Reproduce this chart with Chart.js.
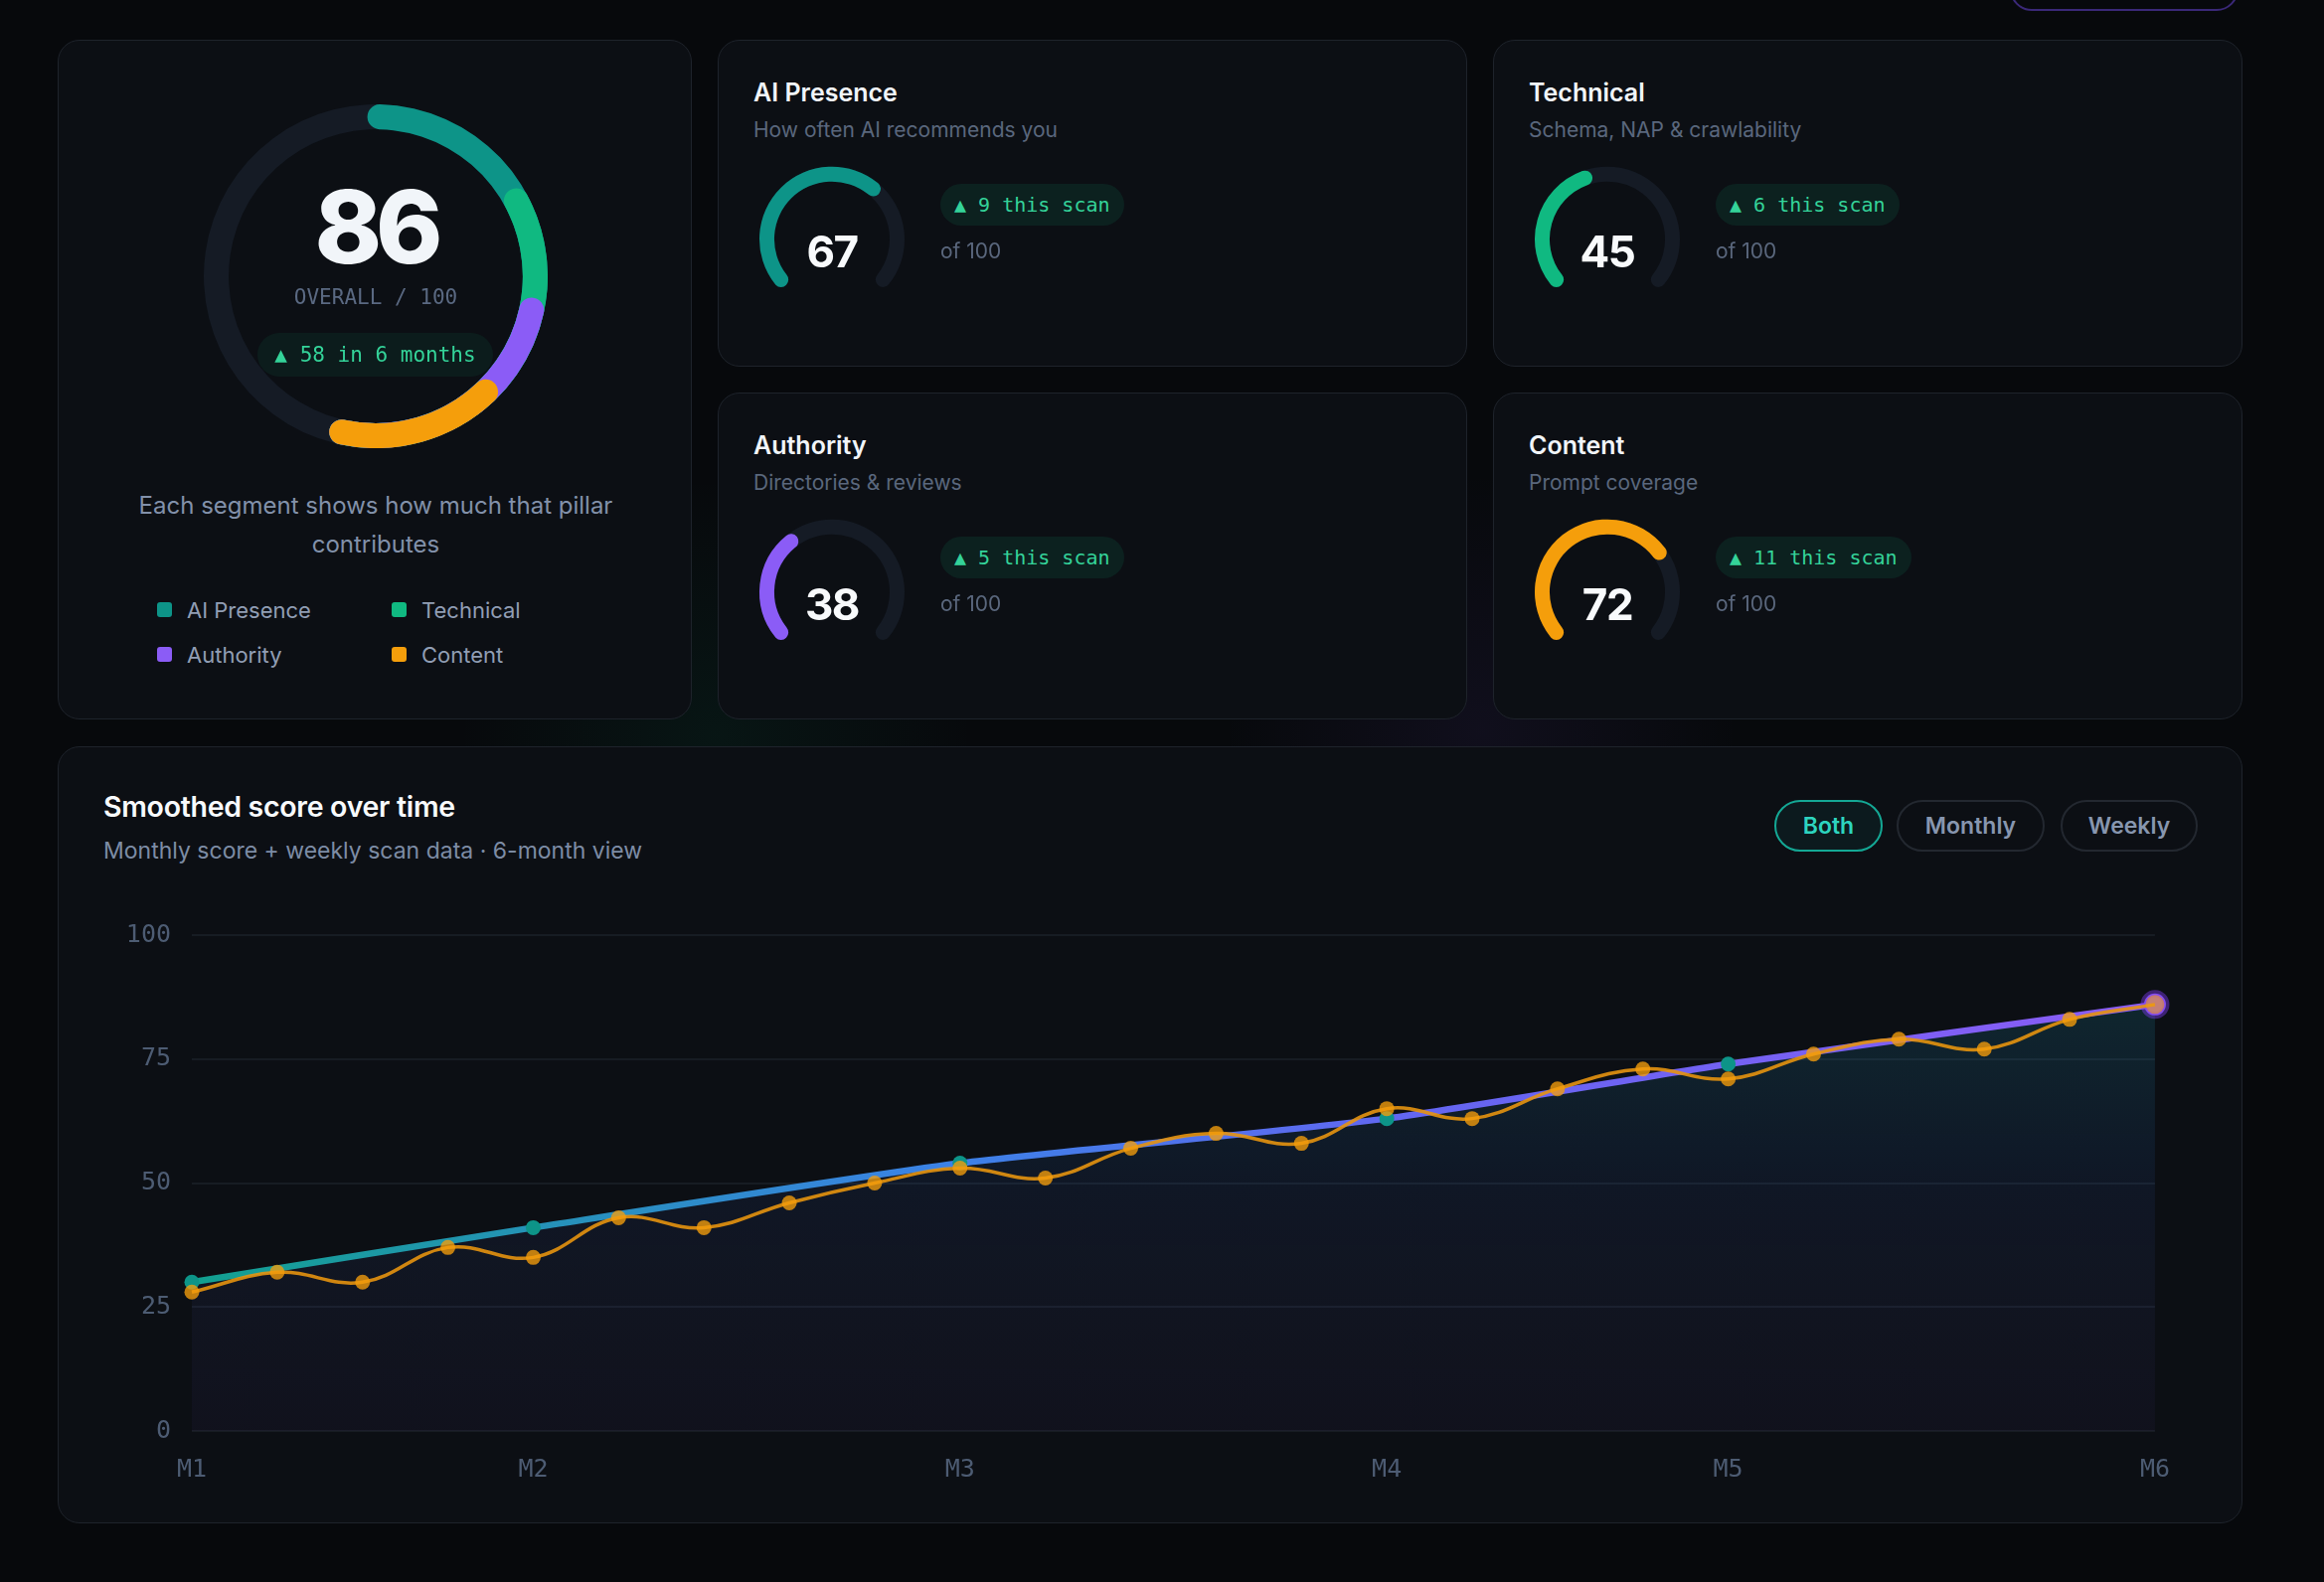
<!DOCTYPE html>
<html>
<head>
<meta charset="utf-8">
<title>Score overview</title>
<script src="https://cdn.jsdelivr.net/npm/chart.js@4.4.1/dist/chart.umd.min.js"></script>
<style>
  html, body { margin: 0; padding: 0; }
  body {
    width: 2338px; height: 1592px; overflow: hidden; position: relative;
    background:
      radial-gradient(circle at 720px 740px, rgba(16,185,129,0.07), transparent 260px),
      radial-gradient(circle at 1490px 735px, rgba(139,92,246,0.07), transparent 260px),
      #07090c;
    font-family: Inter, 'Noto Sans', sans-serif;
    color: #e2e8f0;
  }
  .card {
    position: absolute; box-sizing: border-box;
    background: #0c0f14; border: 1px solid #1e232b; border-radius: 22px;
  }
  .abs { position: absolute; white-space: nowrap; }
  .layer { position: absolute; left: 0; top: 0; width: 100%; height: 100%; }
  .pill {
    position: absolute; box-sizing: border-box; white-space: nowrap; text-align: center;
    background: rgba(16,185,129,0.11); color: #34d399;
    font-family: 'DejaVu Sans Mono', monospace; border-radius: 999px;
  }
  .top-btn {
    position: absolute; left: 2022px; top: -42px; width: 230px; height: 53px;
    box-sizing: border-box; border: 2px solid #3a2878; border-radius: 22px;
  }
  .card-title { font-size: 25px; font-weight: 600; color: #f1f5f9; line-height: 30px; }
  .card-sub { font-size: 21px; color: #5a677d; line-height: 26px; }
  .gauge-num { font-size: 44px; font-weight: 700; color: #f8fafc; letter-spacing: -1.5px; width: 120px; text-align: center; line-height: 50px; }
  .legend-sq { position: absolute; width: 15px; height: 15px; border-radius: 3px; }
  .legend-tx { position: absolute; font-size: 22px; color: #919eb4; line-height: 26px; white-space: nowrap; }
  .btn {
    position: absolute; top: 53px; height: 52px; box-sizing: border-box;
    border: 2px solid #232830; border-radius: 26px; color: #8796af;
    font-size: 23px; font-weight: 600; line-height: 48px; text-align: center;
  }
  .btn.on { border-color: #14a895; background: rgba(20,184,166,0.07); color: #2dd4bf; }
</style>
</head>
<body>
<div class="top-btn"></div>

<div class="card" id="overallCard" style="left:58px;top:40px;width:638px;height:684px;">
  <div id="donut" style="position:absolute;left:146px;top:64px;width:346px;height:346px;"></div>
  <div class="abs" id="overallNum" style="left:0;width:638px;top:128px;text-align:center;font-size:102px;font-weight:800;letter-spacing:-6px;line-height:118px;color:#f1f5f9;"></div>
  <div class="abs" style="left:0;width:638px;top:245px;text-align:center;font-family:'DejaVu Sans Mono',monospace;font-size:21px;line-height:26px;color:#5a6982;">OVERALL / 100</div>
  <div class="pill" id="overallGain" style="left:200px;top:294px;width:237px;height:44px;line-height:44px;font-size:21px;background:rgba(16,185,129,0.08);"></div>
  <div class="abs" style="left:0;width:638px;top:448px;text-align:center;font-size:24px;line-height:39px;color:#8291aa;white-space:normal;">Each segment shows how much that pillar<br>contributes</div>
  <div id="legend"></div>
</div>

<div id="pillars"></div>

<div class="card" id="trendCard" style="left:58px;top:751px;width:2198px;height:782px;">
  <div class="abs" style="left:45px;top:43px;font-size:28.5px;font-weight:600;line-height:34px;color:#f8fafc;letter-spacing:-0.3px;">Smoothed score over time</div>
  <div class="abs" style="left:45px;top:90px;font-size:23px;line-height:28px;color:#7d8ca5;">Monthly score + weekly scan data · 6-month view</div>
  <div class="btn on" style="left:1726px;width:109px;">Both</div>
  <div class="btn" style="left:1849px;width:149px;">Monthly</div>
  <div class="btn" style="left:2014px;width:138px;">Weekly</div>
  <div style="position:absolute;left:42px;top:153px;width:2106px;height:606px;">
    <canvas id="trendChart"></canvas>
  </div>
</div>

<script>
// pillar data
const pillarNames = ['AI Presence', 'Technical', 'Authority', 'Content'];
const pillarSubs = ['How often AI recommends you', 'Schema, NAP & crawlability', 'Directories & reviews', 'Prompt coverage'];
const pillarScores = [67, 45, 38, 72];
const pillarDeltas = [9, 6, 5, 11];
const pillarColors = ['#0d9488', '#10b981', '#8b5cf6', '#f59e0b'];
// share of the overall ring each pillar fills (out of 100)
const pillarShare = [16.75, 11.25, 9.5, 18];
const overallScore = 86;
const overallGain = 58;

// trend data
const monthLabels = ['M1', 'M2', 'M3', 'M4', 'M5', 'M6'];
const monthWeek = [0, 4, 9, 14, 18, 23];
const monthlyScore = [30, 41, 54, 63, 74, 86];
const weeklyScore = [28, 32, 30, 37, 35, 43, 41, 46, 50, 53, 51, 57, 60, 58, 65, 63, 69, 73, 71, 76, 79, 77, 83, 86];
const yTicks = [0, 25, 50, 75, 100];

const trackColor = '#151b25';
const clear = 'rgba(0,0,0,0)';
const mono = "'DejaVu Sans Mono', monospace";

// one doughnut per layer, stacked in the same box
function ringLayer(parent, values, colors, opts) {
    const wrap = document.createElement('div');
    wrap.className = 'layer';
    parent.appendChild(wrap);
    const canvas = document.createElement('canvas');
    wrap.appendChild(canvas);
    return new Chart(canvas, {
        type: 'doughnut',
        data: {
            datasets: [{
                data: values,
                backgroundColor: colors,
                borderWidth: 0,
                borderRadius: (ctx) => opts.rounded.includes(ctx.dataIndex) ? 60 : 0
            }]
        },
        options: {
            responsive: true,
            maintainAspectRatio: false,
            animation: false,
            events: [],
            rotation: opts.rotation,
            circumference: opts.circumference,
            radius: opts.radius,
            cutout: opts.cutout,
            plugins: { legend: { display: false }, tooltip: { enabled: false } }
        }
    });
}

// overall ring
const donutEl = document.getElementById('donut');
const bigOpts = { rotation: -3, circumference: 360, radius: 173, cutout: '85.5%' };
ringLayer(donutEl, [100], [trackColor], Object.assign({ rounded: [] }, bigOpts));
const shareTotal = pillarShare.reduce((a, b) => a + b, 0);
let start = 0;
pillarShare.forEach((share, i) => {
    ringLayer(donutEl, [start, shareTotal - start, 100 - shareTotal],
        [clear, pillarColors[i], clear], Object.assign({ rounded: [1] }, bigOpts));
    start += share;
});

document.getElementById('overallNum').textContent = overallScore;
document.getElementById('overallGain').textContent = '▲ ' + overallGain + ' in 6 months';

// legend
const legendEl = document.getElementById('legend');
const legendPos = [[99, 573], [335, 573], [99, 618], [335, 618]];
pillarNames.forEach((name, i) => {
    const [lx, ly] = legendPos[i];
    legendEl.insertAdjacentHTML('beforeend',
        `<div class="legend-sq" style="left:${lx}px;top:${ly - 8}px;background:${pillarColors[i]}"></div>` +
        `<div class="legend-tx" style="left:${lx + 30}px;top:${ly - 13}px">${name}</div>`);
});

// pillar cards
const cardPos = [[722, 40], [1502, 40], [722, 395], [1502, 395]];
const pillarsEl = document.getElementById('pillars');
pillarNames.forEach((name, i) => {
    const [cx, cy] = cardPos[i];
    const card = document.createElement('div');
    card.className = 'card';
    card.style.cssText = `left:${cx}px;top:${cy}px;width:754px;height:329px;`;
    card.innerHTML = `
        <div class="abs card-title" style="left:35px;top:37px">${name}</div>
        <div class="abs card-sub" style="left:35px;top:77px">${pillarSubs[i]}</div>
        <div class="gauge" style="position:absolute;left:34px;top:109px;width:160px;height:160px"></div>
        <div class="abs gauge-num" style="left:54px;top:187px">${pillarScores[i]}</div>
        <div class="pill" style="left:223px;top:144px;height:42px;line-height:42px;font-size:20px;padding:0 14px">▲ ${pillarDeltas[i]} this scan</div>
        <div class="abs card-sub" style="left:223px;top:199px">of 100</div>`;
    pillarsEl.appendChild(card);
    const g = card.querySelector('.gauge');
    const gOpts = { rotation: -135, circumference: 270, radius: 73, cutout: '79.5%' };
    ringLayer(g, [100], [trackColor], Object.assign({ rounded: [0] }, gOpts));
    ringLayer(g, [pillarScores[i], 100 - pillarScores[i]], [pillarColors[i], clear], Object.assign({ rounded: [0] }, gOpts));
});

// trend chart
const lastMonth = monthlyScore.length - 1;
const lastWeek = weeklyScore.length - 1;

function lineGradient(ctx) {
    const chart = ctx.chart;
    const area = chart.chartArea;
    if (!area) return pillarColors[0];
    const g = chart.ctx.createLinearGradient(area.left, 0, area.right, 0);
    g.addColorStop(0, '#12a08f');
    g.addColorStop(0.38, '#3b82e6');
    g.addColorStop(0.62, '#6366f1');
    g.addColorStop(1, '#8b5cf6');
    return g;
}

function fillGradient(ctx) {
    const chart = ctx.chart;
    const area = chart.chartArea;
    if (!area) return clear;
    const g = chart.ctx.createLinearGradient(0, area.top, 0, area.bottom);
    g.addColorStop(0, 'rgba(20,184,166,0.19)');
    g.addColorStop(0.5, 'rgba(59,130,246,0.08)');
    g.addColorStop(1, 'rgba(139,92,246,0.04)');
    return g;
}

const tickFont = { family: mono, size: 25 };
const tickColor = '#4d5c73';

new Chart(document.getElementById('trendChart'), {
    type: 'line',
    data: {
        datasets: [
            {
                label: 'Weekly',
                data: weeklyScore.map((v, i) => ({ x: i, y: v })),
                borderColor: 'rgba(230,148,16,0.9)',
                borderWidth: 3.5,
                tension: 0.4,
                fill: false,
                clip: false,
                pointRadius: weeklyScore.map((v, i) => i === lastWeek ? 9.5 : 7.5),
                pointBackgroundColor: weeklyScore.map((v, i) => i === lastWeek ? 'rgba(245,158,11,0.55)' : 'rgba(245,158,11,0.78)'),
                pointBorderColor: clear,
                pointBorderWidth: 0,
                order: 1
            },
            {
                label: 'Monthly',
                data: monthWeek.map((w, i) => ({ x: w, y: monthlyScore[i] })),
                borderColor: lineGradient,
                backgroundColor: fillGradient,
                borderWidth: 6.5,
                tension: 0.2,
                fill: 'origin',
                clip: false,
                pointRadius: monthlyScore.map((v, i) => i === lastMonth ? 11 : 7.5),
                pointBackgroundColor: monthlyScore.map((v, i) => i === lastMonth ? '#8b5cf6' : '#0d9488'),
                pointBorderColor: 'rgba(124,58,237,0.45)',
                pointBorderWidth: monthlyScore.map((v, i) => i === lastMonth ? 7 : 0),
                order: 2
            }
        ]
    },
    options: {
        responsive: true,
        maintainAspectRatio: false,
        animation: false,
        events: [],
        layout: { padding: 0 },
        plugins: { legend: { display: false }, tooltip: { enabled: false } },
        scales: {
            x: {
                type: 'linear',
                min: 0,
                max: lastWeek,
                grid: { display: false, drawTicks: false },
                border: { display: false },
                afterBuildTicks: (axis) => { axis.ticks = monthWeek.map(v => ({ value: v })); },
                afterFit: (axis) => { axis.height = 71; },
                ticks: {
                    autoSkip: false,
                    maxRotation: 0,
                    padding: 24,
                    color: tickColor,
                    font: tickFont,
                    callback: (value, index) => monthLabels[index]
                }
            },
            y: {
                min: 0,
                max: 100,
                afterBuildTicks: (axis) => { axis.ticks = yTicks.map(v => ({ value: v })); },
                afterFit: (axis) => { axis.width = 92; },
                grid: { color: 'rgba(100,116,139,0.13)', lineWidth: 2, drawTicks: false },
                border: { display: false },
                ticks: { padding: 21, color: tickColor, font: tickFont }
            }
        }
    }
});
</script>
</body>
</html>
